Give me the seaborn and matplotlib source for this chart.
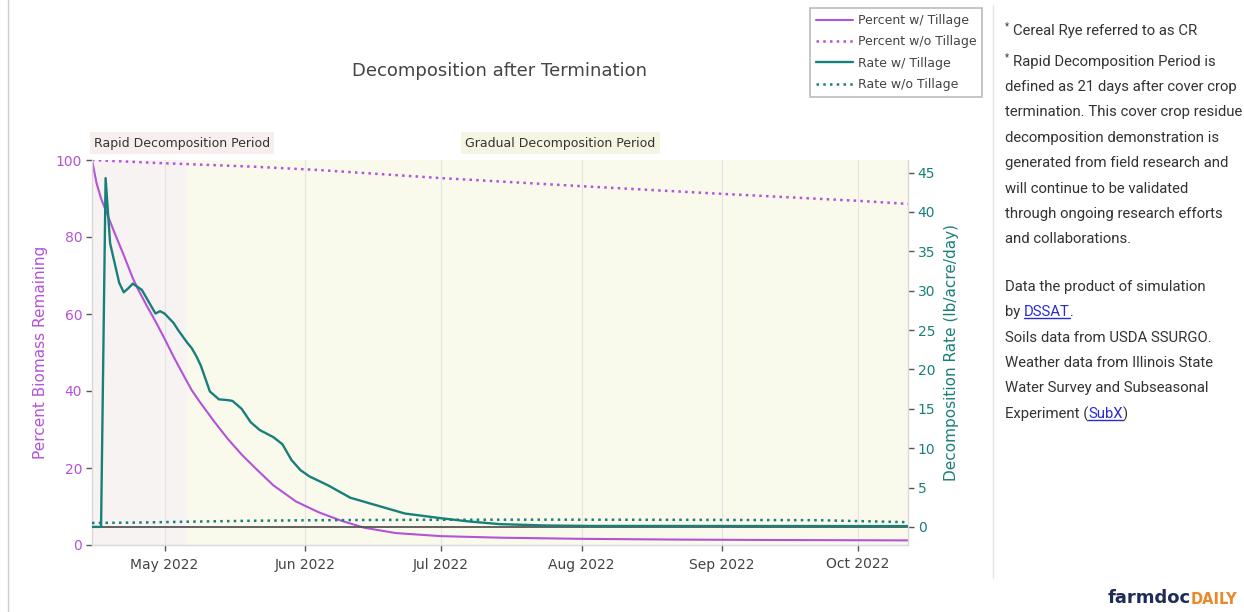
#Import Libraries
import matplotlib
matplotlib.use('Agg')
import matplotlib.pyplot as plt
import matplotlib.dates as mdates
from matplotlib.lines import Line2D
import pandas as pd
import seaborn as sns

#Data
pct_till_dates = ['2022-04-15', '2022-04-16', '2022-04-17', '2022-04-18', '2022-04-19', '2022-04-20',
                  '2022-04-22', '2022-04-24', '2022-04-25', '2022-04-27', '2022-04-29', '2022-05-01',
                  '2022-05-03', '2022-05-05', '2022-05-07', '2022-05-09', '2022-05-12', '2022-05-15',
                  '2022-05-18', '2022-05-21', '2022-05-25', '2022-05-30', '2022-06-04', '2022-06-09',
                  '2022-06-14', '2022-06-21', '2022-07-01', '2022-07-14', '2022-08-01', '2022-08-23',
                  '2022-09-12', '2022-10-12']
pct_till = [100, 94, 90, 87, 84, 81, 75.3, 69.3, 66.8, 62.3, 58.1, 53.6,
            48.9, 44.5, 40.2, 36.8, 32, 27.5, 23.5, 20, 15.5, 11.3, 8.5, 6.3,
            4.5, 3.1, 2.3, 1.9, 1.6, 1.4, 1.3, 1.2]

pct_notill_dates = ['2022-04-15', '2022-04-30', '2022-05-20', '2022-06-04', '2022-07-01',
                    '2022-08-01', '2022-09-01', '2022-10-01', '2022-10-12']
pct_notill = [100, 99.2, 98.3, 97.4, 95.3, 93.2, 91.2, 89.4, 88.6]

rate_till_dates = ['2022-04-15', '2022-04-16', '2022-04-17', '2022-04-18', '2022-04-19', '2022-04-20',
                   '2022-04-21', '2022-04-22', '2022-04-23', '2022-04-24', '2022-04-25', '2022-04-26',
                   '2022-04-27', '2022-04-28', '2022-04-29', '2022-04-30', '2022-05-01', '2022-05-02',
                   '2022-05-03', '2022-05-04', '2022-05-05', '2022-05-06', '2022-05-07', '2022-05-08',
                   '2022-05-09', '2022-05-11', '2022-05-13', '2022-05-15', '2022-05-16', '2022-05-18',
                   '2022-05-20', '2022-05-22', '2022-05-25', '2022-05-27', '2022-05-29', '2022-05-31',
                   '2022-06-02', '2022-06-06', '2022-06-11', '2022-06-17', '2022-06-23', '2022-07-01',
                   '2022-07-07', '2022-07-14', '2022-07-24', '2022-08-03', '2022-10-12']
rate_till = [0, 0, 0, 44.3, 36, 33.5, 31, 29.8, 30.3, 30.9, 30.5, 30.1,
             29.1, 28.1, 27.1, 27.4, 27.1, 26.5, 25.9, 25, 24.2, 23.4, 22.7, 21.7,
             20.5, 17.2, 16.2, 16.1, 16.0, 15.0, 13.3, 12.3, 11.4, 10.5, 8.5, 7.2,
             6.4, 5.3, 3.7, 2.7, 1.7, 1.1, 0.7, 0.35, 0.18, 0.12, 0.1]

rate_notill_dates = ['2022-04-15', '2022-04-25', '2022-05-05', '2022-05-20', '2022-06-04', '2022-06-24',
                     '2022-07-24', '2022-08-23', '2022-09-22', '2022-10-04', '2022-10-12']
rate_notill = [0.5, 0.55, 0.65, 0.78, 0.85, 0.9, 0.92, 0.9, 0.85, 0.7, 0.6]

period_dates = ['2022-04-15', '2022-05-06', '2022-10-12']
period_labels = ['Rapid Decomposition Period', 'Gradual Decomposition Period']

notes = ['Cereal Rye referred to as CR',
         'Rapid Decomposition Period is',
         'defined as 21 days after cover crop',
         'termination. This cover crop residue',
         'decomposition demonstration is',
         'generated from field research and',
         'will continue to be validated',
         'through ongoing research efforts',
         'and collaborations.']
sources = ['Data the product of simulation',
           'Soils data from USDA SSURGO.',
           'Weather data from Illinois State',
           'Water Survey and Subseasonal']

PURPLE = '#b452d8'
TEAL = '#187f7b'
GREY = '#444444'
W, H = 1244, 612

sns.set_theme(style='white')
plt.rcParams['font.family'] = ['DejaVu Sans']

fig = plt.figure(figsize=(W / 100, H / 100), dpi=100)
ax = fig.add_axes([92 / W, 1 - 545 / H, (908 - 92) / W, (545 - 160) / H])
ax2 = ax.twinx()

#Period shading
p = pd.to_datetime(period_dates)
ax.axvspan(p[0], p[1], color='#f8f3f3', zorder=0, lw=0)
ax.axvspan(p[1], p[2], color='#fafaec', zorder=0, lw=0)

#Lines
sns.lineplot(x=pd.to_datetime(pct_till_dates), y=pct_till, ax=ax, color=PURPLE,
             linewidth=1.5, label='Percent w/ Tillage')
sns.lineplot(x=pd.to_datetime(pct_notill_dates), y=pct_notill, ax=ax, color=PURPLE,
             linewidth=1.8, linestyle=(0, (1, 1.7)), label='Percent w/o Tillage')
ax2.axhline(0, color='#555555', lw=1.3, zorder=1)
sns.lineplot(x=pd.to_datetime(rate_till_dates), y=rate_till, ax=ax2, color=TEAL,
             linewidth=1.7, label='Rate w/ Tillage', zorder=3)
sns.lineplot(x=pd.to_datetime(rate_notill_dates), y=rate_notill, ax=ax2, color=TEAL,
             linewidth=1.8, linestyle=(0, (1, 1.7)), label='Rate w/o Tillage', zorder=3)

h1, l1 = ax.get_legend_handles_labels()
h2, l2 = ax2.get_legend_handles_labels()
for a in (ax, ax2):
    if a.get_legend() is not None:
        a.get_legend().remove()

#Axes styling
ax.set_xlim(p[0], p[2])
ax.set_ylim(0, 100)
ax2.set_ylim(-2.3, 46.6)
ax.set_yticks([0, 20, 40, 60, 80, 100])
ax2.set_yticks(range(0, 50, 5))
ax.xaxis.set_major_locator(mdates.MonthLocator())
ax.xaxis.set_major_formatter(mdates.DateFormatter('%b %Y'))
ax.set_axisbelow(True)
ax.grid(axis='x', color='#e4e4e4', lw=0.9)
ax.grid(axis='y', visible=False)
ax2.grid(False)

for a in (ax, ax2):
    for s in a.spines.values():
        s.set_color('#d8d8d8')
        s.set_linewidth(1)
    a.spines['top'].set_visible(False)
ax.spines['right'].set_visible(False)
ax2.spines['left'].set_visible(False)
ax2.spines['bottom'].set_visible(False)

ax.tick_params(axis='x', colors='#555555', labelcolor=GREY, length=4, width=1, labelsize=10, pad=5, bottom=True)
ax.tick_params(axis='y', colors='#555555', labelcolor=PURPLE, length=4, width=1, labelsize=10, pad=3, left=True)
ax2.tick_params(axis='y', colors='#555555', labelcolor=TEAL, length=4, width=1, labelsize=10, pad=3, right=True)
ax.set_xlabel('')
ax.set_ylabel('Percent Biomass Remaining', color=PURPLE, fontsize=11, labelpad=6)
ax2.set_ylabel('Decomposition Rate (lb/acre/day)', color=TEAL, fontsize=11, labelpad=6)

#Title and period labels
fig.text(500 / W, 1 - 71 / H, 'Decomposition after Termination', ha='center', va='center',
         fontsize=13, color=GREY)
fig.text(182 / W, 1 - 143 / H, period_labels[0], ha='center', va='center', fontsize=9, color='#333333',
         bbox=dict(boxstyle='square,pad=0.35', fc='#f6efee', ec='none'))
fig.text(560 / W, 1 - 143 / H, period_labels[1], ha='center', va='center', fontsize=9, color='#333333',
         bbox=dict(boxstyle='square,pad=0.35', fc='#f6f4e2', ec='none'))

#Legend
leg = fig.legend(h1 + h2, l1 + l2, loc='upper left', bbox_to_anchor=(810 / W, 1 - 8 / H),
                 borderaxespad=0, fontsize=9, handlelength=2.9, labelspacing=0.66, borderpad=0.5,
                 handletextpad=0.4, fancybox=False, frameon=True, edgecolor='#aaaaaa')
leg.get_frame().set_linewidth(1.2)
for t in leg.get_texts():
    t.set_color(GREY)

#Side notes
NOTE = dict(family=['Roboto', 'DejaVu Sans'], fontsize=10.7, color='#333333', va='center')
x0 = 1005 / W
fig.text(x0, 1 - 26 / H, '*', fontsize=7, color='#333333', va='center', family=['Roboto'])
fig.text(1013 / W, 1 - 31 / H, notes[0], **NOTE)
fig.text(x0, 1 - 57 / H, '*', fontsize=7, color='#333333', va='center', family=['Roboto'])
fig.text(1013 / W, 1 - 62 / H, notes[1], **NOTE)
for i, line in enumerate(notes[2:]):
    fig.text(x0, 1 - (87 + 25.4 * i) / H, line, **NOTE)

fig.text(x0, 1 - 287 / H, sources[0], **NOTE)
fig.text(x0, 1 - 338 / H, sources[1], **NOTE)
fig.text(x0, 1 - 363 / H, sources[2], **NOTE)
fig.text(x0, 1 - 388 / H, sources[3], **NOTE)

fig.canvas.draw()
r = fig.canvas.get_renderer()


def chain(parts, y):
    #place text pieces one after another; links get blue and an underline
    x = x0
    for txt, link in parts:
        t = fig.text(x, y, txt, **dict(NOTE, color='#2a2ad0' if link else '#333333'))
        bb = t.get_window_extent(r)
        if link:
            fig.add_artist(Line2D([bb.x0 / W, bb.x1 / W], [(bb.y0 + 1) / H] * 2,
                                  color='#2a2ad0', lw=1, transform=fig.transFigure))
        x = bb.x1 / W


chain([('by ', False), ('DSSAT', True), ('.', False)], 1 - 312 / H)
chain([('Experiment (', False), ('SubX', True), (')', False)], 1 - 414 / H)

#Logo
t = fig.text(1108 / W, 1 - 598 / H, 'farmdoc', fontsize=13, fontweight='bold', color='#1f2c55', va='center')
bb = t.get_window_extent(r)
fig.text(bb.x1 / W, 1 - 599 / H, 'DAILY', fontsize=10.5, fontweight='bold', color='#e8892b', va='center')

#Page borders
fig.add_artist(Line2D([8 / W, 8 / W], [0, 1], color='#cccccc', lw=1, transform=fig.transFigure))
fig.add_artist(Line2D([993 / W, 993 / W], [1 - 578 / H, 1 - 5 / H], color='#e4e4e4', lw=1,
                      transform=fig.transFigure))

plt.savefig('out.png', dpi=100)
